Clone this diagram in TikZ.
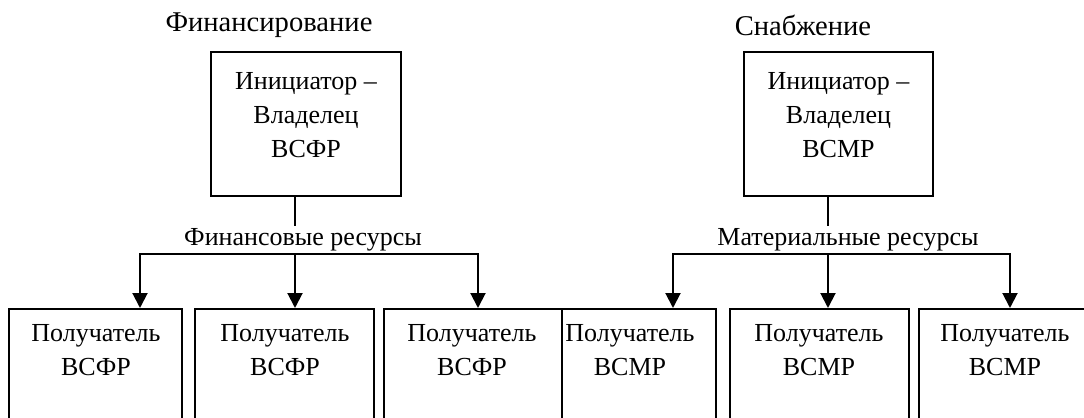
\documentclass[tikz,border=0pt]{standalone}
\usepackage{fontspec}
\setmainfont{Liberation Serif}
\usetikzlibrary{arrows.meta}

\tikzset{
  box/.style={draw, line width=1pt, inner sep=0pt},
  recv/.style={box, anchor=north, minimum height=70pt},
  txt/.style={font=\fontsize{13}{17}\selectfont, align=center, inner sep=1pt},
  head/.style={font=\fontsize{14.3}{17}\selectfont, inner sep=1pt},
  ln/.style={line width=1pt},
  arr/.style={line width=1pt, -{Triangle[length=7.5pt,width=7.5pt]}}
}

\begin{document}
\begin{tikzpicture}[x=0.5pt,y=-0.5pt]
            \useasboundingbox (0,0) rectangle (1084,418);
            \clip (0,0) rectangle (1084,418);

            % Финансирование
            \node[head] (titleF) at (269,25) {Финансирование};
            \node[box, minimum width=95pt, minimum height=72pt] (ownerF) at (306,124) {};
            \node[txt] (ownerFtxt) at (306,115.5) {Инициатор –\\Владелец\\ВСФР};
            \node[txt] (resF) at (303,240) {Финансовые ресурсы};

            \node[recv, minimum width=86.5pt] (recvF1) at (95.5,308) {};
            \node[recv, minimum width=89.5pt] (recvF2) at (284.5,308) {};
            \node[recv, minimum width=89pt] (recvF3) at (473,308) {};
            \node[txt] (recvF1txt) at (96,350) {Получатель\\ВСФР};
            \node[txt] (recvF2txt) at (285,350) {Получатель\\ВСФР};
            \node[txt] (recvF3txt) at (472,350) {Получатель\\ВСФР};

            \coordinate (jF) at (295,254);
            \coordinate (aF1) at (140,254);
            \coordinate (aF3) at (478,254);
            \draw[ln] (ownerF.south -| jF) -- (resF.north -| jF);
            \draw[arr] (jF) -- (aF1) -- (aF1 |- recvF1.north);
            \draw[arr] (jF) -- (recvF2.north -| jF);
            \draw[arr] (jF) -- (aF3) -- (aF3 |- recvF3.north);

            % Снабжение
            \node[head] (titleM) at (803,25) {Снабжение};
            \node[box, minimum width=94.5pt, minimum height=72pt] (ownerM) at (838.5,124) {};
            \node[txt] (ownerMtxt) at (838.5,115.5) {Инициатор –\\Владелец\\ВСМР};
            \node[txt] (resM) at (848,240) {Материальные ресурсы};

            \node[recv, minimum width=77pt] (recvM1) at (639,308) {};
            \node[recv, minimum width=89.5pt] (recvM2) at (819.5,308) {};
            \node[recv, minimum width=86.5pt] (recvM3) at (1005.5,308) {};
            \node[txt] (recvM1txt) at (630,350) {Получатель\\ВСМР};
            \node[txt] (recvM2txt) at (819,350) {Получатель\\ВСМР};
            \node[txt] (recvM3txt) at (1005,350) {Получатель\\ВСМР};

            \coordinate (jM) at (828,254);
            \coordinate (aM1) at (673,254);
            \coordinate (aM3) at (1010,254);
            \draw[ln] (ownerM.south -| jM) -- (resM.north -| jM);
            \draw[arr] (jM) -- (aM1) -- (aM1 |- recvM1.north);
            \draw[arr] (jM) -- (recvM2.north -| jM);
            \draw[arr] (jM) -- (aM3) -- (aM3 |- recvM3.north);
        \end{tikzpicture}
\end{document}
